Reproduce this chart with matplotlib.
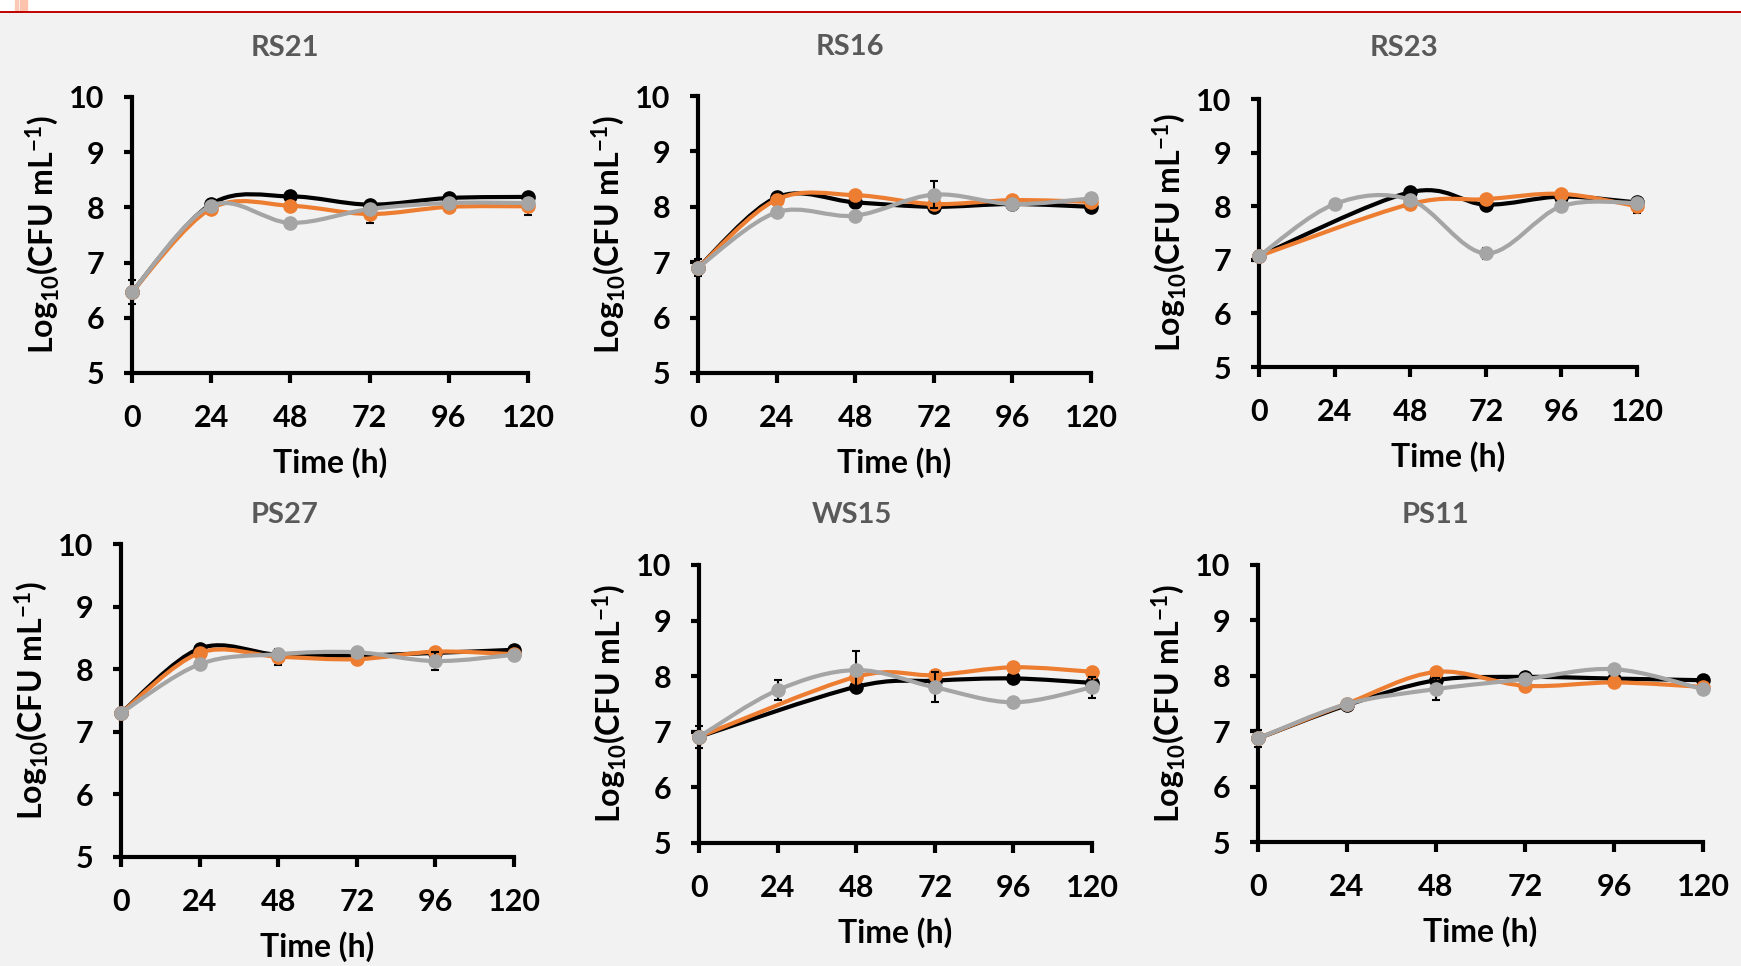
import numpy as np
import matplotlib
matplotlib.use('Agg')
from matplotlib import pyplot as plt
from matplotlib.path import Path
from matplotlib.patches import PathPatch, Rectangle
from matplotlib.lines import Line2D

# fuentes (Lato negrita se parece a la Calibri del original)
plt.rcParams['font.family'] = ['Lato', 'DejaVu Sans']
plt.rcParams['font.weight'] = 'bold'
plt.rcParams['mathtext.fontset'] = 'custom'
plt.rcParams['mathtext.rm'] = 'Lato:bold'
plt.rcParams['mathtext.it'] = 'Lato:bold'
plt.rcParams['mathtext.bf'] = 'Lato:bold'
plt.rcParams['mathtext.default'] = 'rm'

nan = np.nan

# datos
horas = [0, 24, 48, 72, 96, 120]
cepas = ['RS21', 'RS16', 'RS23', 'PS27', 'WS15', 'PS11']

negro = [
    [6.47, 8.06, 8.20, 8.05, 8.17, 8.19],   # RS21
    [6.90, 8.17, 8.08, 8.00, 8.05, 8.00],   # RS16
    [7.07, nan, 8.26, 8.03, 8.18, 8.07],    # RS23
    [7.30, 8.33, 8.23, 8.22, 8.26, 8.31],   # PS27
    [6.91, nan, 7.81, 7.92, 7.96, 7.88],    # WS15
    [6.87, 7.47, 7.92, 7.98, 7.95, 7.92],   # PS11
]
naranja = [
    [6.47, 7.98, 8.03, 7.88, 8.01, 8.02],
    [6.90, 8.13, 8.21, 8.05, 8.12, 8.09],
    [7.07, nan, 8.04, 8.13, 8.23, 8.00],
    [7.30, 8.26, 8.20, 8.16, 8.28, 8.24],
    [6.91, nan, 7.99, 8.02, 8.16, 8.08],
    [6.87, 7.50, 8.07, 7.82, 7.88, 7.80],
]
gris = [
    [6.47, 8.03, 7.72, 7.97, 8.08, 8.08],
    [6.90, 7.90, 7.84, 8.22, 8.05, 8.15],
    [7.07, 8.04, 8.12, 7.12, 8.00, 8.06],
    [7.30, 8.08, 8.24, 8.27, 8.13, 8.23],
    [6.91, 7.75, 8.11, 7.80, 7.53, 7.80],
    [6.87, 7.49, 7.76, 7.94, 8.12, 7.76],
]

# barras de error (0 = sin barra)
err_negro = [
    [0.22, 0, 0, 0, 0, 0],
    [0.15, 0, 0, 0, 0, 0],
    [0, 0, 0, 0, 0, 0],
    [0, 0, 0, 0, 0, 0],
    [0.20, 0, 0.10, 0, 0, 0],
    [0.15, 0, 0, 0, 0, 0],
]
err_naranja = [
    [0, 0, 0, 0.16, 0, 0.16],
    [0, 0, 0, 0, 0, 0],
    [0, 0, 0, 0, 0, 0.13],
    [0, 0, 0.13, 0, 0, 0],
    [0, 0, 0, 0, 0, 0],
    [0, 0, 0, 0, 0, 0],
]
err_gris = [
    [0, 0, 0, 0, 0, 0],
    [0, 0, 0, 0.25, 0, 0],
    [0, 0, 0, 0.10, 0, 0],
    [0, 0, 0, 0, 0.15, 0],
    [0, 0.18, 0.34, 0.27, 0, 0.19],
    [0, 0, 0.20, 0, 0, 0.08],
]

colores = ['#000000', '#ED7D31', '#A5A5A5']

# posiciones de cada panel en pixeles: izq, arriba, der, abajo
W, H = 1741, 966
ejes_px = [(132, 97, 528, 373), (698, 96, 1091, 373), (1259, 99, 1637, 367),
           (121, 544, 514, 857), (699, 565, 1092, 843), (1258, 565, 1703, 842)]
titulo_px = [(285, 48), (850, 47), (1404, 48), (285, 515), (852, 515), (1436, 515)]


def camino_suave(x, y):
    # curva suavizada tipo excel (bezier con puntos vecinos)
    pts = [(a, b) for a, b in zip(x, y) if not np.isnan(b)]
    n = len(pts)
    verts = [pts[0]]
    codes = [Path.MOVETO]
    for i in range(n - 1):
        p0 = pts[max(i - 1, 0)]
        p1 = pts[i]
        p2 = pts[i + 1]
        p3 = pts[min(i + 2, n - 1)]
        c1 = (p1[0] + (p2[0] - p0[0]) / 6, p1[1] + (p2[1] - p0[1]) / 6)
        c2 = (p2[0] - (p3[0] - p1[0]) / 6, p2[1] - (p3[1] - p1[1]) / 6)
        verts += [c1, c2, p2]
        codes += [Path.CURVE4] * 3
    return Path(verts, codes)


fig = plt.figure(figsize=(W / 100, H / 100), dpi=100, facecolor='#f2f2f2')

# franja blanca de arriba con la linea roja
fig.add_artist(Rectangle((0, 1 - 11 / H), 1, 11 / H, transform=fig.transFigure,
                         color='white', zorder=0))
fig.add_artist(Rectangle((15 / W, 1 - 11 / H), 3 / W, 11 / H, transform=fig.transFigure,
                         color='#fbc9b6', zorder=1))
fig.add_artist(Rectangle((20 / W, 1 - 11 / H), 7 / W, 11 / H, transform=fig.transFigure,
                         color='#fcc3ad', zorder=1))
fig.add_artist(Line2D([0, 1], [1 - 12 / H, 1 - 12 / H], transform=fig.transFigure,
                      color='#c00000', lw=1.4))

for i in range(6):
    l, t, r, b = ejes_px[i]
    ax = fig.add_axes([l / W, 1 - b / H, (r - l) / W, (b - t) / H])
    ax.set_facecolor('none')

    series = [(negro[i], err_negro[i]), (naranja[i], err_naranja[i]), (gris[i], err_gris[i])]
    for j, (vals, errs) in enumerate(series):
        z = 3 + 3 * j
        x = np.array(horas, dtype=float)
        y = np.array(vals, dtype=float)
        e = np.array(errs, dtype=float)
        m = e > 0
        if m.any():
            eb = ax.errorbar(x[m], y[m], yerr=e[m], fmt='none', ecolor='k',
                             elinewidth=1.5, capsize=3, capthick=1.5, zorder=z)
            for art in eb.get_children():
                art.set_clip_on(False)
        ax.add_patch(PathPatch(camino_suave(x, y), fill=False, edgecolor=colores[j],
                               lw=3.0, zorder=z + 1, clip_on=False))
        ax.plot(x, y, 'o', color=colores[j], ms=9.5, zorder=z + 2, clip_on=False)

    ax.set_xlim(0, 120)
    ax.set_ylim(5, 10)
    ax.set_xticks(horas)
    ax.set_yticks(range(5, 11))
    ax.spines['top'].set_visible(False)
    ax.spines['right'].set_visible(False)
    ax.spines['left'].set_linewidth(3.0)
    ax.spines['bottom'].set_linewidth(3.0)
    ax.tick_params(axis='x', direction='out', length=7, width=3.0, labelsize=22, pad=15)
    ax.tick_params(axis='y', direction='out', length=6, width=3.0, labelsize=22, pad=14)

    ax.set_xlabel('Time (h)', fontsize=23, fontweight='bold')
    ax.xaxis.set_label_coords(0.5, -90 / (b - t))
    ax.xaxis.label.set_va('center')
    ax.set_ylabel(r'Log$_{10}$(CFU mL$^{-1}$)', fontsize=23, fontweight='bold')
    ax.yaxis.set_label_coords(-90 / (r - l), 0.5)
    ax.yaxis.label.set_va('center')

    tx, ty = titulo_px[i]
    fig.text(tx / W, 1 - ty / H, cepas[i], ha='center', va='center',
             color='#595959', fontsize=21, fontweight='bold')

plt.savefig('out.png', dpi=100, facecolor=fig.get_facecolor())
